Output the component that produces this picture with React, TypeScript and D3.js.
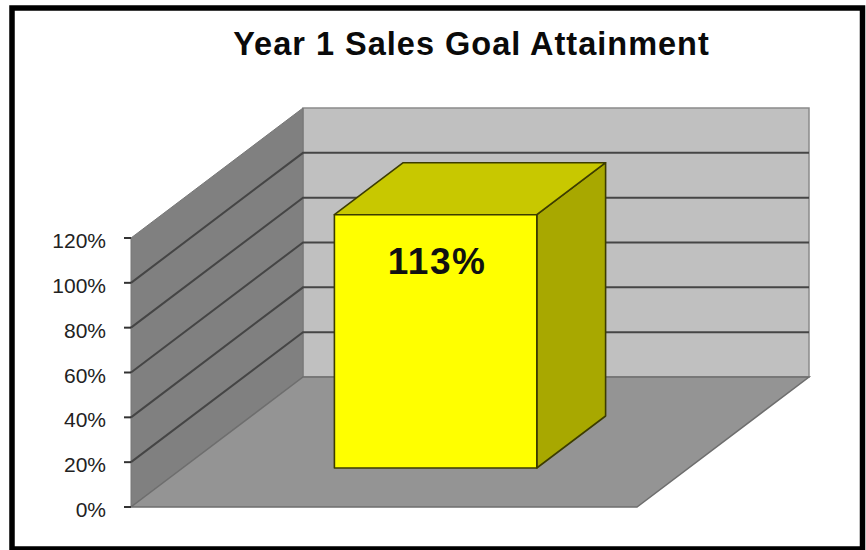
import React from "react";
import * as d3 from "d3";

const chartTitle = "Year 1 Sales Goal Attainment";
const categories = ["Year 1"];
const attainment = [1.13];
const tickValues = [0, 0.2, 0.4, 0.6, 0.8, 1.0, 1.2];
const valueLabels = ["113%"];

const WIDTH = 866;
const HEIGHT = 550;
const FONT = "'Liberation Sans', Arial, sans-serif";

// Front plane of the 3-D box, plus the oblique offset to its back plane.
const y = d3.scaleLinear().domain([0, 1.2]).range([507, 238]);
const x = d3.scaleBand().domain(categories).range([131, 637]).paddingInner(0).paddingOuter(0.75);
const depthX = 172;
const depthY = -130;
// Bars occupy the middle 40% of the floor depth.
const barDepthStart = 0.3;
const barDepthEnd = 0.7;

type Pt = [number, number];
const project = (px: number, value: number, depth: number): Pt => [
  px + depthX * depth,
  y(value) + depthY * depth,
];
const poly = (pts: Pt[]) => (d3.line()(pts) ?? "") + "Z";

export default function App() {
  const x0 = x.range()[0];
  const x1 = x.range()[1];
  const top = y.domain()[1];
  const pctFormat = d3.format(".0%");

  return (
    <svg
      width={WIDTH}
      height={HEIGHT}
      style={{ position: "absolute", left: 0, top: 0, display: "block", background: "#fff" }}
    >
      <rect x={12} y={8} width={850.5} height={541} fill="#fff" stroke="#000" strokeWidth={5.5} />

      <text
        x={471.5}
        y={54.5}
        textAnchor="middle"
        fontFamily={FONT}
        fontWeight={700}
        fontSize={32.5}
        letterSpacing={1}
        fill="#0a0a0a"
      >
        {chartTitle}
      </text>

      {/* back wall */}
      <path
        d={poly([project(x0, 0, 1), project(x1, 0, 1), project(x1, top, 1), project(x0, top, 1)])}
        fill="#c0c0c0"
        stroke="#8a8a8a"
        strokeWidth={1.5}
      />
      {/* side wall */}
      <path
        d={poly([project(x0, 0, 0), project(x0, 0, 1), project(x0, top, 1), project(x0, top, 0)])}
        fill="#808080"
        stroke="#777"
        strokeWidth={1}
      />
      {/* floor */}
      <path
        d={poly([project(x0, 0, 0), project(x1, 0, 0), project(x1, 0, 1), project(x0, 0, 1)])}
        fill="#949494"
        stroke="#6e6e6e"
        strokeWidth={1.5}
      />

      {/* gridlines and axis ticks */}
      {tickValues.map((t, i) => (
        <g key={t}>
          {i > 0 && i < tickValues.length - 1 && (
            <path
              d={d3.line()([project(x0, t, 0), project(x0, t, 1), project(x1, t, 1)]) ?? ""}
              fill="none"
              stroke="#454545"
              strokeWidth={2}
            />
          )}
          <line x1={x0 - 7} x2={x0} y1={y(t)} y2={y(t)} stroke="#333" strokeWidth={2} />
          <text
            x={106}
            y={y(t) + 10}
            textAnchor="end"
            fontFamily={FONT}
            fontSize={21}
            fill="#222"
          >
            {pctFormat(t)}
          </text>
        </g>
      ))}

      {/* bar */}
      {categories.map((c, i) => {
        const left = x(c) ?? 0;
        const right = left + x.bandwidth();
        const v = attainment[i];
        const fl = project(left, 0, barDepthStart);
        const fr = project(right, 0, barDepthStart);
        const tl = project(left, v, barDepthStart);
        const tr = project(right, v, barDepthStart);
        const br = project(right, 0, barDepthEnd);
        const tbr = project(right, v, barDepthEnd);
        const tbl = project(left, v, barDepthEnd);
        return (
          <g key={c} stroke="#3c3c00" strokeWidth={1.6} strokeLinejoin="round">
            <path d={poly([fr, br, tbr, tr])} fill="#a8a800" />
            <path d={poly([tl, tr, tbr, tbl])} fill="#c8c800" />
            <path d={poly([fl, fr, tr, tl])} fill="#ffff00" />
            <text
              x={(tl[0] + tr[0]) / 2 + 1.5}
              y={tl[1] + 59}
              textAnchor="middle"
              fontFamily={FONT}
              fontWeight={700}
              fontSize={37}
              letterSpacing={1.5}
              fill="#111"
              stroke="none"
            >
              {valueLabels[i]}
            </text>
          </g>
        );
      })}
    </svg>
  );
}
